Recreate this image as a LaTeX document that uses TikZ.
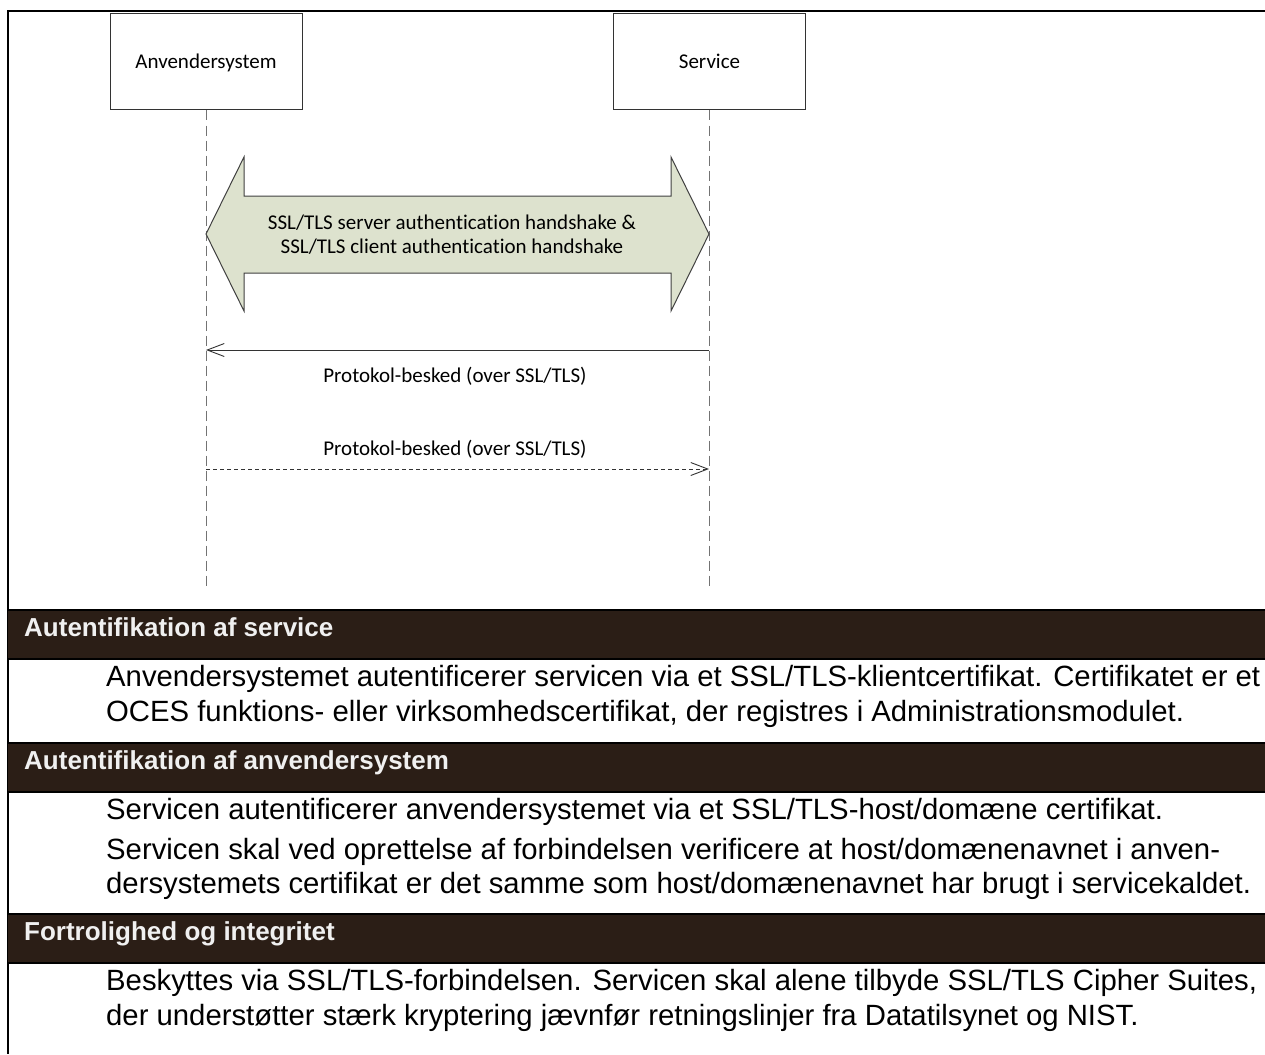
\documentclass[tikz,border=0pt]{standalone}
\usepackage{fontspec}
\setmainfont[Ligatures=CommonOff]{Liberation Sans}
\newfontfamily\calfont[Ligatures=CommonOff]{Carlito}
\usetikzlibrary{arrows.meta}
\definecolor{bandc}{RGB}{43,30,22}
\definecolor{arrowfill}{RGB}{221,226,206}
\begin{document}
\begin{tikzpicture}[x=1pt,y=-1pt,
  actor/.style={draw=black!80, line width=1pt, minimum width=192pt, minimum height=96pt,
    font=\calfont\fontsize{21}{25}\selectfont, inner sep=0pt, text height=13.5pt, text depth=0pt},
  lifeline/.style={draw=black!55, line width=1pt, dash pattern=on 10pt off 5pt},
  msg/.style={draw=black!80, line width=0.9pt, -{Straight Barb[length=17pt,width=13pt]}},
  dmsg/.style={msg, dash pattern=on 4pt off 3pt},
  lbl/.style={font=\calfont\fontsize{21}{25}\selectfont, anchor=base, inner sep=0pt},
  bigarrow/.style={fill=arrowfill, draw=black!75, line width=1pt, line join=miter},
  bandline/.style={draw=black, line width=2pt},
  head/.style={font=\bfseries\fontsize{26}{30}\selectfont, text=white!94!black, anchor=base west, inner sep=0pt},
  body/.style={font=\fontsize{29.3}{34}\selectfont, anchor=base west, inner sep=0pt},
  frame/.style={draw=black, line width=2.5pt},
]
\useasboundingbox (0,0) rectangle (1265,1054);

% outer frame (top and left)
\draw[frame] (7,11) -- (1265,11);
\draw[frame] (8,11) -- (8,1054);

% actors
\node[actor] (A) at (206,62) {Anvendersystem};
\node[actor] (S) at (709.5,62) {Service};

% lifelines
\coordinate (Aend) at (206,588);
\coordinate (Send) at (709,588);
\draw[lifeline] (A.south) -- (Aend);
\draw[lifeline] (S.south -| Send) -- (Send);

% big double arrow (handshake)
\draw[bigarrow] (206,234) -- (244,157) -- (244,196) -- (671,196) -- (671,157) -- (709,234)
  -- (671,311) -- (671,273) -- (244,273) -- (244,311) -- cycle;
\node[font=\calfont\fontsize{21}{24}\selectfont, align=center, inner sep=0pt] (hs) at (452,235)
  {SSL/TLS server authentication handshake \&\\SSL/TLS client authentication handshake};

% messages
\coordinate (m1s) at (709,350);
\coordinate (m1e) at (206,350);
\draw[msg] (m1s) -- (m1e);
\node[lbl] (l1) at (455,382) {Protokol-besked (over SSL/TLS)};

\coordinate (m2s) at (206,469);
\coordinate (m2e) at (709,469);
\node[lbl] (l2) at (455,455) {Protokol-besked (over SSL/TLS)};
\draw[dmsg] (m2s) -- (m2e);

% band 1
\fill[bandc] (8,610) rectangle (1265,659);
\draw[bandline] (8,610) -- (1265,610);
\draw[bandline] (8,659) -- (1265,659);
\node[head] (h1) at (24,636) {Autentifikation af service};
\node[body] (b11) at (106,686) {Anvendersystemet autentificerer servicen via et SSL/TLS-klientcertifikat. Certifikatet er et};
\node[body] (b12) at (106,721) {OCES funktions- eller virksomhedscertifikat, der registres i Administrationsmodulet.};

% band 2
\fill[bandc] (8,743) rectangle (1265,792);
\draw[bandline] (8,743) -- (1265,743);
\draw[bandline] (8,792) -- (1265,792);
\node[head] (h2) at (24,769) {Autentifikation af anvendersystem};
\node[body] (b21) at (106,819) {Servicen autentificerer anvendersystemet via et SSL/TLS-host/domæne certifikat.};
\node[body] (b22) at (106,859) {Servicen skal ved oprettelse af forbindelsen verificere at host/domænenavnet i anven-};
\node[body] (b23) at (106,893) {dersystemets certifikat er det samme som host/domænenavnet har brugt i servicekaldet.};

% band 3
\fill[bandc] (8,914) rectangle (1265,963);
\draw[bandline] (8,914) -- (1265,914);
\draw[bandline] (8,963) -- (1265,963);
\node[head] (h3) at (24,940) {Fortrolighed og integritet};
\node[body] (b31) at (106,990) {Beskyttes via SSL/TLS-forbindelsen. Servicen skal alene tilbyde SSL/TLS Cipher Suites,};
\node[body] (b32) at (106,1025) {der understøtter stærk kryptering jævnfør retningslinjer fra Datatilsynet og NIST.};
\end{tikzpicture}
\end{document}
